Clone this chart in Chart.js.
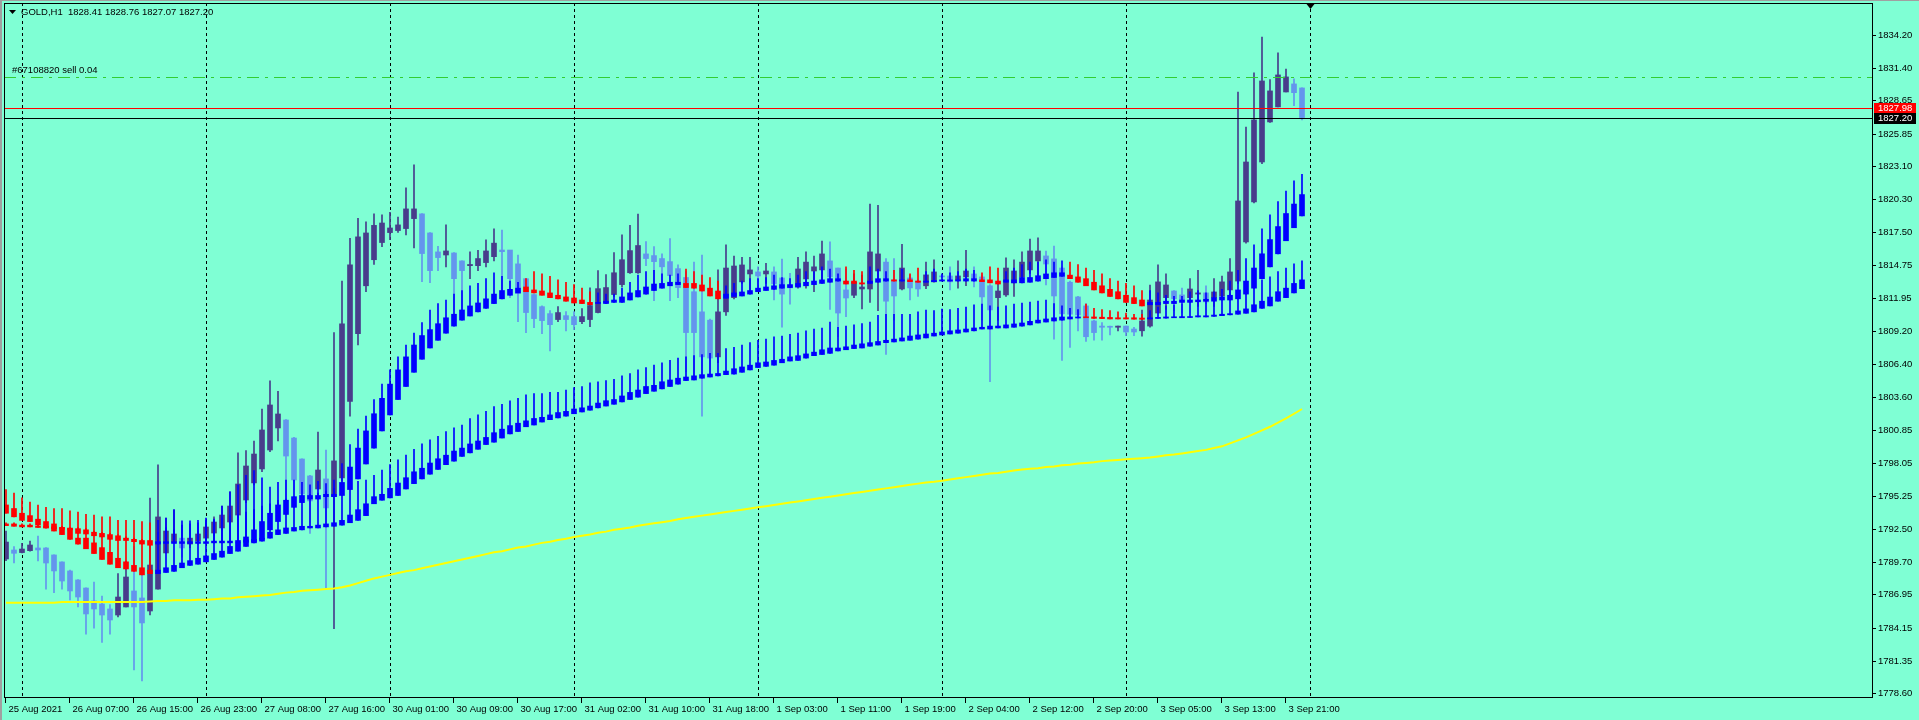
<!DOCTYPE html>
<html><head><meta charset="utf-8">
<script src="https://cdn.jsdelivr.net/npm/chart.js@4.4.0/dist/chart.umd.min.js"></script>
<style>html,body{margin:0;padding:0;background:#7FFFD4;overflow:hidden}canvas{display:block}</style>
</head><body>
<canvas id="c" width="1919" height="720"></canvas>
<script>
// ---- data ----
const openP = [1789.94,1790.7,1790.48,1790.64,1790.87,1790.87,1790.28,1789.69,1788.93,1788.17,1787.49,1786.4,1786.14,1785.72,1785.21,1785.89,1787.24,1786.65,1785.55,1787.4,
1790.45,1791.37,1791.7,1791.2,1791.46,1791.7,1792.13,1792.56,1793.06,1793.65,1794.92,1796.36,1797.54,1799.14,1801.0,1801.67,1800.15,1798.38,1796.95,1795.85,
1796.7,1795.21,1796.78,1803.23,1808.96,1813.0,1815.2,1816.65,1817.49,1817.66,1817.83,1818.67,1819.07,1817.46,1815.86,1815.6,1815.77,1815.1,1814.7,1814.7,
1814.96,1815.46,1816.02,1816.02,1814.85,1813.6,1812.26,1811.24,1810.65,1810.15,1810.48,1810.4,1809.97,1810.15,1810.74,1811.58,1812.26,1813.1,1814.1,1814.1,
1815.69,1815.55,1815.3,1815.04,1814.45,1813.7,1812.5,1810.8,1810.1,1807.0,1810.8,1812.0,1813.33,1814.0,1814.17,1814.0,1814.17,1813.66,1813.07,1812.9,
1813.58,1814.25,1814.34,1815.1,1814.5,1812.65,1812.2,1812.73,1812.73,1814.25,1815.0,1813.5,1812.73,1813.66,1813.4,1813.0,1813.33,1813.83,1813.83,1813.5,
1813.75,1814.0,1813.75,1813.0,1812.0,1812.23,1813.25,1813.75,1814.34,1815.1,1815.52,1815.27,1814.5,1813.3,1812.06,1811.3,1810.03,1809.6,1809.55,1809.5,
1809.6,1809.35,1809.2,1809.6,1810.7,1812.0,1812.56,1812.23,1812.0,1812.3,1812.4,1812.0,1812.14,1812.65,1813.4,1816.7,1820.08,1823.45,1826.83,1828.1,
1829.36,1830.04,1829.7];
const highP = [1792.3,1790.98,1791.26,1791.46,1791.88,1790.9,1790.3,1789.7,1789.0,1788.2,1787.5,1788.0,1786.8,1786.1,1788.7,1789.77,1790.98,1788.67,1795.09,1797.88,
1793.4,1794.07,1791.7,1791.7,1792.3,1793.0,1793.5,1794.4,1795.6,1798.89,1799.1,1799.9,1802.6,1804.97,1804.1,1801.7,1800.2,1798.4,1797.0,1800.66,
1799.14,1809.05,1813.4,1817.0,1818.7,1818.4,1819.07,1819.0,1819.2,1818.8,1821.26,1823.2,1819.1,1817.5,1816.33,1818.14,1815.8,1815.1,1815.86,1816.0,
1816.87,1817.8,1817.7,1816.0,1815.6,1813.6,1812.3,1811.3,1810.9,1811.24,1810.82,1810.82,1811.07,1812.82,1814.28,1813.94,1815.8,1817.3,1818.1,1819.06,
1816.73,1816.3,1815.7,1816.98,1814.76,1814.2,1815.0,1815.6,1810.2,1814.34,1816.45,1815.5,1815.4,1815.4,1814.6,1814.9,1814.6,1815.26,1814.05,1815.4,
1815.86,1815.5,1816.78,1816.7,1814.5,1814.4,1814.0,1813.9,1819.9,1819.8,1815.3,1815.3,1816.5,1813.9,1813.5,1815.0,1815.2,1813.9,1814.6,1815.1,
1816.0,1814.6,1813.9,1813.1,1813.15,1815.35,1815.2,1815.86,1816.95,1817.04,1815.94,1816.36,1814.6,1813.4,1812.1,1811.5,1810.1,1809.9,1809.6,1809.6,
1809.6,1809.5,1810.95,1813.07,1814.76,1814.0,1812.6,1812.8,1813.6,1814.3,1813.0,1813.6,1813.83,1815.3,1829.36,1826.4,1830.97,1834.0,1830.4,1832.66,
1831.3,1830.46,1829.7];
const lowP = [1789.8,1789.6,1790.45,1790.6,1789.77,1787.4,1787.1,1787.4,1786.48,1785.89,1783.6,1784.1,1782.9,1783.6,1785.05,1785.89,1780.57,1779.64,1785.21,1787.4,
1790.45,1791.37,1790.1,1790.9,1791.2,1791.5,1791.9,1792.3,1792.9,1793.4,1794.7,1796.2,1797.3,1799.0,1799.9,1794.6,1795.8,1794.75,1792.1,1795.85,
1787.5,1784.06,1796.5,1802.0,1808.0,1812.5,1814.8,1816.3,1816.9,1817.5,1817.3,1816.2,1813.35,1813.27,1814.28,1814.6,1810.96,1810.96,1813.6,1814.28,
1814.6,1815.1,1812.1,1812.0,1809.97,1809.05,1809.47,1808.96,1807.5,1809.97,1809.2,1809.3,1809.8,1809.55,1810.7,1811.5,1812.1,1812.9,1814.05,1814.05,
1814.7,1811.75,1812.93,1811.75,1812.0,1805.75,1805.3,1802.0,1805.5,1806.5,1810.5,1811.9,1813.2,1812.6,1812.65,1813.2,1811.8,1809.5,1811.45,1812.8,
1812.8,1812.5,1813.5,1811.0,1808.7,1810.4,1812.0,1811.05,1811.6,1810.9,1807.2,1810.1,1812.65,1811.8,1812.1,1812.75,1813.3,1813.7,1812.65,1812.8,
1813.0,1812.9,1810.1,1804.9,1810.1,1812.1,1812.1,1813.5,1814.05,1813.8,1813.07,1808.5,1806.7,1807.8,1809.2,1808.3,1808.4,1808.4,1808.85,1809.2,
1808.8,1808.8,1808.75,1809.5,1810.7,1811.0,1810.9,1810.7,1811.8,1811.25,1811.5,1811.25,1812.1,1812.1,1813.2,1816.6,1820.0,1823.3,1826.8,1828.1,
1829.36,1828.2,1827.0];
const closeP = [1791.37,1790.42,1790.78,1791.12,1790.7,1789.6,1788.93,1788.08,1787.24,1786.73,1785.3,1785.72,1785.21,1784.79,1786.73,1788.42,1785.89,1784.54,1789.43,1793.49,
1792.3,1792.05,1790.87,1791.7,1792.05,1792.64,1793.06,1793.65,1794.41,1796.27,1797.79,1798.8,1800.83,1802.94,1802.18,1798.63,1796.61,1795.43,1794.84,1797.45,
1794.25,1798.22,1809.78,1814.76,1817.13,1817.46,1818.1,1818.3,1817.88,1818.14,1819.49,1819.49,1815.72,1814.28,1815.38,1815.94,1813.6,1814.28,1814.8,1815.3,
1815.94,1816.6,1815.88,1813.6,1812.34,1810.74,1810.23,1810.06,1809.72,1810.74,1810.15,1809.72,1810.4,1811.33,1812.76,1812.85,1814.1,1815.2,1815.97,1816.4,
1815.3,1815.04,1814.6,1813.86,1812.85,1809.05,1809.05,1807.0,1806.9,1810.8,1814.5,1814.67,1814.76,1814.34,1813.83,1814.25,1813.16,1812.3,1812.82,1814.42,
1815.0,1814.6,1815.69,1813.75,1810.7,1811.97,1813.3,1812.9,1815.86,1815.69,1811.7,1812.14,1814.5,1812.82,1812.73,1813.92,1814.17,1813.75,1813.33,1813.83,
1814.25,1813.58,1812.06,1810.96,1812.56,1814.5,1814.25,1815.0,1815.94,1815.94,1814.84,1812.14,1810.63,1810.6,1810.54,1808.7,1809.05,1809.5,1809.5,1809.6,
1809.1,1809.1,1810.03,1811.8,1813.33,1813.07,1811.9,1811.64,1812.73,1812.4,1811.64,1812.48,1813.33,1814.17,1820.16,1823.45,1827.0,1830.29,1829.45,1830.8,
1830.63,1829.3,1827.2];

const fastHi = [1794.5,1794.2,1793.8,1793.6,1793.3,1793.1,1792.9,1792.6,1792.5,1791.7,1791.7,1791.3,1790.9,1790.5,1790.0,1789.7,1789.4,1789.2,1789.0,1789.0,
1789.2,1789.4,1789.6,1789.8,1790.0,1790.2,1790.4,1790.6,1791.0,1791.3,1791.8,1792.4,1793.1,1793.8,1794.5,1794.9,1795.2,1795.3,1795.3,1795.3,
1795.4,1795.4,1796.4,1797.7,1799.3,1800.75,1802.2,1803.5,1804.7,1805.9,1807.0,1808.0,1808.8,1809.3,1809.8,1810.3,1810.6,1810.96,1811.3,1811.55,
1811.9,1812.3,1812.6,1812.7,1812.8,1812.9,1812.65,1812.56,1812.4,1812.2,1812.06,1811.97,1811.8,1811.6,1811.6,1811.7,1811.8,1812.06,1812.4,1812.6,
1812.9,1813.15,1813.2,1813.3,1813.3,1813.2,1813.2,1813.07,1812.8,1812.56,1812.3,1812.4,1812.48,1812.6,1812.8,1812.9,1813.0,1813.1,1813.1,1813.2,
1813.3,1813.4,1813.5,1813.6,1813.6,1813.4,1813.4,1813.25,1813.4,1813.6,1813.6,1813.5,1813.5,1813.5,1813.4,1813.4,1813.45,1813.5,1813.5,1813.5,
1813.6,1813.6,1813.5,1813.5,1813.4,1813.5,1813.5,1813.7,1813.7,1813.85,1814.0,1814.1,1814.1,1813.9,1813.75,1813.6,1813.3,1813.0,1812.7,1812.5,
1812.2,1812.0,1811.8,1811.6,1811.6,1811.7,1811.7,1811.8,1811.8,1811.8,1811.86,1812.0,1812.06,1812.2,1812.65,1813.4,1814.5,1815.7,1816.9,1818.0,
1819.1,1819.9,1820.7];
const fastLo = [1793.8,1793.5,1793.2,1793.1,1792.8,1792.6,1792.3,1792.0,1791.6,1791.2,1790.8,1790.4,1789.9,1789.5,1789.2,1789.1,1788.9,1788.6,1788.7,1788.7,
1788.8,1788.9,1789.2,1789.4,1789.5,1789.7,1789.9,1790.1,1790.4,1790.6,1791.0,1791.3,1791.6,1792.4,1793.1,1793.7,1794.3,1794.7,1795.0,1795.0,
1795.2,1795.2,1795.3,1795.8,1796.7,1797.96,1799.3,1800.75,1802.1,1803.4,1804.5,1805.7,1806.8,1807.75,1808.4,1809.0,1809.6,1810.1,1810.45,1810.8,
1811.1,1811.5,1811.9,1812.2,1812.4,1812.5,1812.4,1812.2,1812.0,1811.9,1811.7,1811.55,1811.5,1811.4,1811.5,1811.5,1811.6,1811.6,1811.8,1812.06,
1812.3,1812.6,1812.8,1813.0,1813.1,1812.85,1812.8,1812.56,1812.14,1811.9,1811.95,1812.1,1812.14,1812.3,1812.5,1812.6,1812.7,1812.8,1812.85,1812.9,
1813.0,1813.1,1813.2,1813.3,1813.4,1813.15,1813.2,1813.15,1813.2,1813.3,1813.4,1813.4,1813.4,1813.35,1813.3,1813.3,1813.35,1813.4,1813.4,1813.4,
1813.4,1813.4,1813.35,1813.25,1813.15,1813.3,1813.25,1813.25,1813.3,1813.4,1813.6,1813.7,1813.8,1813.6,1813.3,1813.0,1812.65,1812.4,1812.1,1811.9,
1811.6,1811.5,1811.3,1811.4,1811.4,1811.5,1811.5,1811.6,1811.6,1811.65,1811.7,1811.7,1811.8,1811.8,1811.9,1812.3,1812.8,1813.6,1814.6,1815.7,
1816.8,1817.9,1818.9];
const fastWick = [1795.8,1795.5,1795.1,1794.75,1794.5,1794.3,1794.2,1794.2,1794.0,1793.9,1793.7,1793.65,1793.5,1793.5,1793.2,1793.2,1793.2,1793.1,1793.0,1793.2,
1793.4,1794.1,1793.15,1793.15,1793.2,1793.4,1793.3,1794.4,1795.6,1796.2,1797.0,1797.4,1796.8,1796.0,1796.4,1796.6,1796.6,1796.4,1796.2,1796.5,
1796.3,1796.6,1798.0,1799.6,1800.9,1802.0,1803.4,1804.7,1805.9,1807.0,1808.0,1809.0,1809.9,1810.96,1811.5,1811.8,1812.3,1812.6,1813.0,1813.2,
1813.6,1814.1,1813.8,1813.4,1813.3,1813.6,1814.2,1814.0,1813.8,1813.5,1813.3,1813.1,1812.8,1812.5,1812.4,1812.3,1812.3,1812.8,1813.3,1813.9,
1814.2,1814.3,1814.0,1813.9,1814.0,1814.4,1814.2,1813.9,1813.7,1813.4,1813.0,1813.2,1813.4,1813.6,1813.6,1813.7,1813.9,1813.7,1813.6,1813.9,
1814.2,1814.2,1814.6,1814.4,1814.0,1814.6,1814.3,1814.2,1814.6,1814.4,1814.2,1814.3,1814.4,1814.0,1814.5,1814.2,1814.4,1814.0,1814.1,1814.2,
1814.4,1814.3,1814.1,1814.6,1814.5,1814.2,1814.5,1814.8,1815.0,1815.0,1815.2,1815.0,1815.1,1815.0,1814.8,1814.5,1814.3,1814.0,1813.6,1813.4,
1813.2,1813.0,1812.6,1812.6,1812.4,1812.2,1812.1,1812.1,1812.5,1812.6,1812.4,1812.5,1812.7,1813.4,1814.3,1815.3,1816.45,1817.8,1819.0,1820.1,
1821.0,1821.85,1822.4];
const fastUp = [0,0,0,0,0,0,0,0,0,0,0,0,0,0,0,0,0,0,0,1,1,1,1,1,1,1,1,1,1,1,1,1,1,1,1,1,1,1,1,1,
1,1,1,1,1,1,1,1,1,1,1,1,1,1,1,1,1,1,1,1,1,1,1,1,1,0,0,0,0,0,0,0,0,0,1,1,1,1,1,1,
1,1,1,1,1,0,0,0,0,0,1,1,1,1,1,1,1,1,1,1,1,1,1,1,1,0,0,0,1,1,1,0,1,0,0,1,1,1,1,1,
1,1,0,0,0,1,1,1,1,1,1,1,1,0,0,0,0,0,0,0,0,0,0,1,1,1,1,1,1,1,1,1,1,1,1,1,1,1,1,1,
1,1,1];

const slowHi = [1792.9,1792.9,1792.8,1792.8,1792.7,1792.7,1792.65,1792.6,1792.55,1792.5,1792.4,1792.2,1792.1,1792.0,1791.9,1791.7,1791.6,1791.5,1791.5,1791.4,
1791.4,1791.4,1791.4,1791.4,1791.4,1791.4,1791.45,1791.45,1791.45,1791.5,1791.55,1791.6,1791.7,1792.2,1792.4,1792.56,1792.6,1792.7,1792.7,1792.8,
1792.9,1793.0,1793.2,1793.65,1794.1,1794.6,1795.2,1795.4,1795.9,1796.35,1796.8,1797.3,1797.6,1798.04,1798.4,1798.7,1799.05,1799.3,1799.65,1799.9,
1800.2,1800.6,1800.9,1801.2,1801.4,1801.6,1801.8,1801.9,1802.1,1802.3,1802.4,1802.6,1802.7,1802.85,1803.1,1803.3,1803.4,1803.7,1804.0,1804.2,
1804.5,1804.6,1804.9,1805.05,1805.2,1805.3,1805.4,1805.5,1805.55,1805.6,1805.8,1806.0,1806.15,1806.3,1806.5,1806.57,1806.7,1806.8,1807.0,1807.1,
1807.25,1807.4,1807.6,1807.75,1807.75,1807.85,1808.0,1808.1,1808.2,1808.3,1808.4,1808.5,1808.6,1808.76,1808.85,1808.93,1809.0,1809.1,1809.2,1809.27,
1809.35,1809.44,1809.5,1809.6,1809.6,1809.7,1809.78,1809.86,1810.0,1810.1,1810.2,1810.3,1810.37,1810.37,1810.37,1810.37,1810.37,1810.35,1810.33,1810.3,
1810.3,1810.3,1810.28,1810.3,1810.34,1810.37,1810.37,1810.4,1810.4,1810.47,1810.47,1810.53,1810.6,1810.65,1810.88,1811.05,1811.4,1811.7,1812.05,1812.5,
1812.8,1813.2,1813.5];
const slowLo = [1792.75,1792.7,1792.65,1792.65,1792.6,1792.55,1792.5,1792.45,1792.4,1792.1,1792.05,1791.9,1791.8,1791.6,1791.5,1791.5,1791.4,1791.2,1791.1,1791.2,
1791.25,1791.25,1791.25,1791.25,1791.25,1791.25,1791.3,1791.3,1791.3,1791.3,1791.35,1791.4,1791.45,1791.7,1792.0,1792.1,1792.3,1792.4,1792.56,1792.56,
1792.65,1792.7,1792.8,1793.0,1793.2,1793.6,1794.6,1794.9,1795.1,1795.3,1795.85,1796.3,1796.7,1797.1,1797.5,1797.9,1798.2,1798.6,1798.9,1799.2,
1799.6,1799.8,1800.15,1800.5,1800.7,1801.1,1801.25,1801.5,1801.7,1801.85,1802.0,1802.2,1802.35,1802.5,1802.7,1802.85,1803.0,1803.2,1803.4,1803.6,
1803.9,1804.1,1804.3,1804.5,1804.7,1805.0,1805.05,1805.2,1805.3,1805.4,1805.5,1805.55,1805.7,1805.9,1806.1,1806.2,1806.3,1806.5,1806.65,1806.7,
1806.9,1807.1,1807.2,1807.3,1807.5,1807.6,1807.7,1807.75,1807.9,1808.0,1808.2,1808.26,1808.34,1808.4,1808.5,1808.6,1808.76,1808.85,1808.93,1809.0,
1809.1,1809.2,1809.35,1809.35,1809.44,1809.44,1809.5,1809.6,1809.7,1809.86,1809.94,1810.03,1810.1,1810.2,1810.28,1810.3,1810.25,1810.23,1810.2,1810.2,
1810.2,1810.18,1810.17,1810.2,1810.24,1810.27,1810.3,1810.3,1810.32,1810.37,1810.37,1810.42,1810.48,1810.55,1810.6,1810.68,1810.8,1811.1,1811.3,1811.7,
1812.0,1812.4,1812.76];
const slowWick = [1793.0,1793.0,1792.9,1792.9,1792.8,1792.8,1792.7,1792.7,1792.6,1792.6,1792.5,1792.3,1792.2,1792.1,1792.0,1791.8,1791.7,1791.6,1791.6,1792.2,
1792.6,1792.4,1792.8,1792.9,1793.0,1793.2,1793.2,1793.4,1793.6,1793.7,1793.9,1794.1,1794.4,1794.6,1794.9,1795.0,1795.2,1795.3,1795.4,1795.5,
1795.7,1795.9,1796.1,1796.3,1796.5,1796.6,1797.0,1797.45,1797.9,1798.3,1798.7,1799.2,1799.65,1800.0,1800.3,1800.7,1801.0,1801.25,1801.8,1802.1,
1802.4,1802.8,1803.0,1803.3,1803.5,1803.8,1803.9,1803.9,1804.0,1804.0,1804.2,1804.4,1804.5,1804.8,1804.9,1805.0,1805.1,1805.4,1805.6,1805.9,
1806.1,1806.3,1806.5,1806.7,1806.9,1807.0,1807.1,1807.2,1807.3,1807.3,1807.7,1807.8,1808.0,1808.2,1808.4,1808.5,1808.7,1808.76,1808.9,1809.0,
1809.2,1809.35,1809.44,1809.94,1809.5,1809.6,1809.7,1809.8,1809.94,1810.5,1810.6,1810.6,1810.6,1810.6,1810.8,1810.96,1810.9,1811.04,1811.0,1811.1,
1811.2,1811.4,1811.46,1811.3,1811.2,1811.3,1811.46,1811.55,1811.63,1811.7,1811.8,1811.5,1811.3,1811.1,1811.0,1811.46,1811.1,1811.0,1810.9,1810.8,
1810.7,1810.6,1810.6,1810.9,1811.2,1811.3,1811.4,1811.5,1811.6,1811.8,1811.9,1812.0,1812.1,1812.3,1812.6,1812.9,1813.2,1813.5,1813.75,1814.2,
1814.5,1814.85,1815.1];
const slowUp = [0,0,0,0,0,0,0,0,0,0,0,0,0,0,0,0,0,0,0,1,1,1,1,1,1,1,1,1,1,1,1,1,1,1,1,1,1,1,1,1,
1,1,1,1,1,1,1,1,1,1,1,1,1,1,1,1,1,1,1,1,1,1,1,1,1,1,1,1,1,1,1,1,1,1,1,1,1,1,1,1,
1,1,1,1,1,1,1,1,1,1,1,1,1,1,1,1,1,1,1,1,1,1,1,1,1,1,1,1,1,1,1,1,1,1,1,1,1,1,1,1,
1,1,1,1,1,1,1,1,1,1,1,1,1,1,1,0,0,0,0,0,0,0,0,1,1,1,1,1,1,1,1,1,1,1,1,1,1,1,1,1,
1,1,1];

const maLong = [1786.25,1786.25,1786.25,1786.25,1786.25,1786.25,1786.25,1786.3,1786.3,1786.3,1786.3,1786.3,1786.3,1786.3,1786.3,1786.3,1786.3,1786.3,1786.35,
1786.4,1786.4,1786.45,1786.45,1786.45,1786.5,1786.5,1786.55,1786.6,1786.6,
1786.7,1786.75,1786.8,1786.85,1786.9,1787.0,1787.1,1787.15,1787.25,1787.3,1787.35,1787.4,1787.45,1787.55,1787.7,1787.9,
1788.1,1788.3,1788.45,1788.6,1788.75,1788.9,1789.0,1789.15,1789.3,1789.45,1789.6,1789.75,1789.9,1790.05,1790.2,1790.35,
1790.5,1790.6,1790.75,1790.9,1791.0,1791.15,1791.3,1791.4,1791.55,1791.65,1791.8,1791.9,1792.0,1792.15,1792.25,1792.4,
1792.5,1792.6,1792.75,1792.85,1792.95,1793.05,1793.15,1793.3,1793.4,1793.5,1793.6,1793.7,1793.8,1793.9,1794.0,
1794.1,1794.2,1794.3,1794.4,1794.5,1794.6,1794.7,1794.8,1794.9,1795.0,1795.1,1795.2,1795.3,1795.4,1795.5,
1795.6,1795.7,1795.8,1795.9,1796.0,1796.1,1796.2,1796.3,1796.4,1796.45,1796.55,1796.65,1796.75,1796.85,1796.95,1797.05,
1797.15,1797.2,1797.3,1797.4,1797.5,1797.55,1797.6,1797.7,1797.75,1797.85,1797.9,1798.0,1798.05,1798.1,1798.2,
1798.25,1798.3,1798.35,1798.4,1798.45,1798.5,1798.6,1798.7,1798.75,1798.85,1798.95,1799.05,1799.15,1799.3,1799.45,
1799.7,1799.95,1800.2,1800.5,1800.8,1801.1,1801.45,1801.8,1802.2,1802.6];

const timeLabels = ["25 Aug 2021","26 Aug 07:00","26 Aug 15:00","26 Aug 23:00","27 Aug 08:00","27 Aug 16:00","30 Aug 01:00","30 Aug 09:00","30 Aug 17:00","31 Aug 02:00","31 Aug 10:00","31 Aug 18:00","1 Sep 03:00","1 Sep 11:00","1 Sep 19:00","2 Sep 04:00","2 Sep 12:00","2 Sep 20:00","3 Sep 05:00","3 Sep 13:00","3 Sep 21:00"];
const timeLabelBars = [0,8,16,24,32,40,48,56,64,72,80,88,96,104,112,120,128,136,144,152,160];
const priceTicks = [1834.20,1831.40,1828.65,1825.85,1823.10,1820.30,1817.50,1814.75,1811.95,1809.20,1806.40,1803.60,1800.85,1798.05,1795.25,1792.50,1789.70,1786.95,1784.15,1781.35,1778.60];
const separatorBars = [2,25,48,71,94,117,140,163];
const header = "GOLD,H1  1828.41 1828.76 1827.07 1827.20";
const orderLabel = "#67108820 sell 0.04";
const orderPrice = 1830.6;
const askPrice = 1827.98;
const bidPrice = 1827.20;

// ---- chart ----
const N = closeP.length;
const BULL = '#483D8B', BEAR = '#6495ED', UPC = '#0000FF', DNC = '#FF0000';
const idx = [...Array(N).keys()];
const cCol = idx.map(i => closeP[i] >= openP[i] ? BULL : BEAR);
const fCol = idx.map(i => fastUp[i] ? UPC : DNC);
const sCol = idx.map(i => slowUp[i] ? UPC : DNC);
function bar(label, data, col, w, order){
  return {type:'bar', label, data, backgroundColor:col, borderWidth:0, barThickness:w, grouped:false, order, minBarLength:1};
}
const FONT = '9.5px "Liberation Sans", Arial, sans-serif';
const deco = {
  id:'deco',
  beforeDraw(ch){
    const c = ch.ctx; c.save();
    c.fillStyle = '#7FFFD4'; c.fillRect(0,0,ch.width,ch.height);
    c.fillStyle = '#A0A0A0'; c.fillRect(0,0,ch.width,1); c.fillRect(0,0,2,ch.height);
    c.restore();
  },
  beforeDatasetsDraw(ch){
    const c = ch.ctx, a = ch.chartArea, x = ch.scales.x; c.save();
    c.strokeStyle = '#000'; c.lineWidth = 1; c.setLineDash([3,3]);
    separatorBars.forEach(b => { const px = Math.round(x.getPixelForValue(b))+0.5; c.beginPath(); c.moveTo(px,a.top); c.lineTo(px,a.bottom); c.stroke(); });
    c.restore();
  },
  afterDatasetsDraw(ch){
    const c = ch.ctx, a = ch.chartArea, x = ch.scales.x, y = ch.scales.y; c.save();
    let py = Math.round(y.getPixelForValue(orderPrice))+0.5;
    c.strokeStyle = '#32CD32'; c.lineWidth = 1; c.setLineDash([12,6,3,6]);
    c.beginPath(); c.moveTo(a.left,py); c.lineTo(a.right,py); c.stroke(); c.setLineDash([]);
    c.font = FONT; c.fillStyle = '#000'; c.textBaseline = 'bottom'; c.textAlign = 'left';
    c.fillText(orderLabel, 12, py-2);
    [[askPrice,'#FF0000'],[bidPrice,'#000000']].forEach(([p,col]) => {
      const yy = Math.round(y.getPixelForValue(p))+0.5;
      c.strokeStyle = col; c.beginPath(); c.moveTo(a.left,yy); c.lineTo(a.right,yy); c.stroke();
    });
    c.strokeStyle = '#000'; c.lineWidth = 1;
    c.strokeRect(a.left+0.5, a.top+0.5, a.right-a.left, a.bottom-a.top);
    c.textAlign = 'left'; c.textBaseline = 'middle'; c.fillStyle = '#000';
    priceTicks.forEach(p => { const yy = Math.round(y.getPixelForValue(p))+0.5;
      c.beginPath(); c.moveTo(a.right,yy); c.lineTo(a.right+4,yy); c.stroke();
      c.fillText(p.toFixed(2), a.right+6, yy); });
    [[askPrice,'#FF0000'],[bidPrice,'#000000']].forEach(([p,col]) => {
      const yy = Math.round(y.getPixelForValue(p));
      c.fillStyle = col; c.fillRect(a.right+2, yy-5, 42, 11);
      c.fillStyle = '#FFFFFF'; c.fillText(p.toFixed(2), a.right+6, yy+0.5);
    });
    c.fillStyle = '#000'; c.textBaseline = 'middle';
    timeLabelBars.forEach((b,k) => { const px = Math.round(x.getPixelForValue(b))-0.5;
      c.beginPath(); c.moveTo(px,a.bottom); c.lineTo(px,a.bottom+6); c.stroke();
      c.fillText(timeLabels[k], px+3, a.bottom+12); });
    c.beginPath(); c.moveTo(9,10); c.lineTo(16,10); c.lineTo(12.5,14); c.closePath(); c.fill();
    c.fillText(header, 21, 12);
    const mx = Math.round(x.getPixelForValue(separatorBars[separatorBars.length-1]))+0.5;
    c.beginPath(); c.moveTo(mx-4,a.top+1); c.lineTo(mx+4,a.top+1); c.lineTo(mx,a.top+6); c.closePath(); c.fill();
    c.restore();
  }
};
new Chart(document.getElementById('c'), {
  type:'bar',
  data:{ datasets:[
    {type:'line', label:'MA', data:idx.map(i=>({x:i,y:maLong[i]})), borderColor:'#FFFF00', borderWidth:2, pointRadius:0, tension:0, order:0},
    bar('fastBody', idx.map(i=>({x:i,y:[fastLo[i],fastHi[i]]})), fCol, 5, 1),
    bar('fastWick', idx.map(i=>({x:i,y:[fastLo[i],fastWick[i]]})), fCol, 1, 2),
    bar('slowBody', idx.map(i=>({x:i,y:[slowLo[i],slowHi[i]]})), sCol, 5, 3),
    bar('slowWick', idx.map(i=>({x:i,y:[slowLo[i],slowWick[i]]})), sCol, 1, 4),
    bar('body', idx.map(i=>({x:i,y:[Math.min(openP[i],closeP[i]),Math.max(openP[i],closeP[i])]})), cCol, 5, 5),
    bar('wick', idx.map(i=>({x:i,y:[lowP[i],highP[i]]})), cCol, 1, 6)
  ]},
  options:{
    responsive:false, animation:false, devicePixelRatio:1,
    layout:{padding:{left:4,right:47,top:3,bottom:23}},
    plugins:{legend:{display:false}, tooltip:{enabled:false}},
    scales:{
      x:{type:'linear', display:false, offset:false, min:-0.25, max:-0.25+1868/8, grid:{display:false}},
      y:{type:'linear', display:false, min:1778.29, max:1836.87, grid:{display:false}}
    }
  },
  plugins:[deco]
});
</script>
</body></html>
